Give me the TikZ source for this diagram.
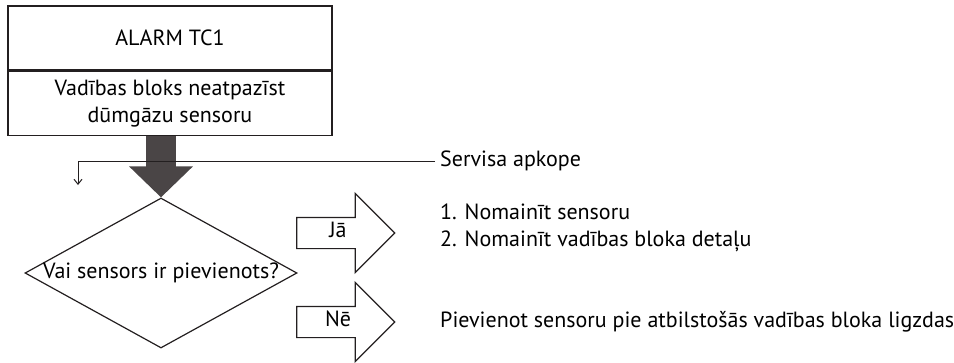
\documentclass[tikz,border=0pt]{standalone}
\usepackage{fontspec}
\setmainfont{PT Sans}
\usetikzlibrary{arrows.meta,positioning,calc,shapes.geometric,shapes.arrows}
\definecolor{tcink}{HTML}{231F20}
\definecolor{tcgrey}{HTML}{4A4546}
\tikzset{
  bx/.style={draw=tcink, line width=1.4pt, minimum width=324pt, minimum height=64pt, align=center, inner sep=2pt},
  decide/.style={diamond, draw=tcink, line width=1.2pt, minimum width=272pt, minimum height=150pt, inner sep=0pt},
  yesno/.style={single arrow, draw=tcink, line width=1.2pt, minimum height=98pt, minimum width=78pt,
    single arrow head extend=24pt, single arrow tip angle=90, text width=50pt, align=center,
    text height=11pt, text depth=3pt, inner xsep=3pt, inner ysep=8pt},
  flow/.style={line width=30pt, color=tcgrey, -{Triangle[length=31pt, width=62pt]}},
  svcline/.style={draw=tcink, line width=1pt, -{Straight Barb[length=5pt, width=8pt]}},
  txt/.style={anchor=west, align=left, inner sep=0pt},
}
\begin{document}
\begin{tikzpicture}[x=1pt, y=-1pt, font=\fontsize{22}{27}\selectfont]
  \useasboundingbox (0,0) rectangle (954,362);
  % fault code and its meaning
  \node[bx] (alarm) at (170,38) {ALARM TC1};
  \node[bx, below=0pt of alarm] (fault) {Vadības bloks neatpazīst\\dūmgāzu sensoru};
  \node[decide, label={center:Vai sensors ir pievienots?}] (dec) at (161,273) {};
  \draw[flow] (fault.south -| dec.north) -- (dec.north);
  % service branch
  \node[txt] (svc) at (435,161) {\hspace{5pt}Servisa apkope};
  \coordinate (svcend) at (78,185);
  \draw[svcline] (svc.west) -| (svcend);
  % answers
  \node[yesno] (ja) at (338,233) {Jā};
  \node[yesno] (ne) at (338,322) {Nē};
  \node[txt] (fix) at (440,228) {1. Nomainīt sensoru\\2. Nomainīt vadības bloka detaļu};
  \node[txt] (plug) at (440,322) {Pievienot sensoru pie atbilstošās vadības bloka ligzdas};
\end{tikzpicture}
\end{document}
